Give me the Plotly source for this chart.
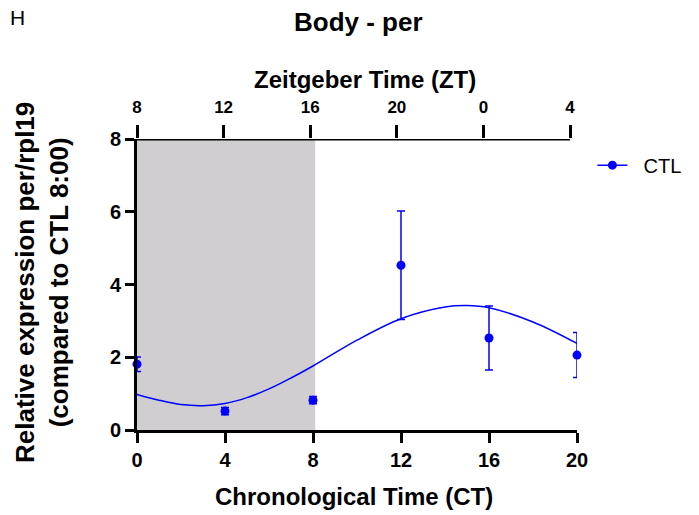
import plotly.graph_objects as go

# Data
ct = [0, 4, 8, 12, 16, 20]
ctl_mean = [1.81, 0.52, 0.82, 4.53, 2.53, 2.06]
ctl_err = [0.20, 0.10, 0.10, 1.49, 0.88, 0.62]

fit_ct = [0, 1, 2, 3, 4, 5, 6, 7, 8, 10, 12, 14, 15, 16, 18, 20]
fit_val = [0.98, 0.82, 0.70, 0.67, 0.73, 0.89, 1.13, 1.43, 1.76, 2.47, 3.06, 3.38, 3.42, 3.36, 2.97, 2.38]

ct_ticks = [0, 4, 8, 12, 16, 20]
zt_labels = ["8", "12", "16", "20", "0", "4"]
y_ticks = [0, 2, 4, 6, 8]
dark_end = 8.1

BLUE = "#0000ff"
FONT = "Liberation Sans, Arial, sans-serif"

fig = go.Figure()

fig.add_trace(go.Scatter(
    x=fit_ct, y=fit_val, mode="lines", line=dict(color=BLUE, width=1.5, shape="spline"),
    showlegend=False, hoverinfo="skip", cliponaxis=False))

fig.add_trace(go.Scatter(
    x=ct, y=ctl_mean, mode="markers",
    marker=dict(color=BLUE, size=9),
    error_y=dict(type="data", array=ctl_err, visible=True, color=BLUE, thickness=1.5, width=4),
    showlegend=False, cliponaxis=False))

fig.add_trace(go.Scatter(
    x=[None], y=[None], mode="lines+markers", name="\u00a0\u00a0CTL",
    line=dict(color=BLUE, width=1.5), marker=dict(color=BLUE, size=9)))

# invisible trace to activate top axis
fig.add_trace(go.Scatter(x=[0], y=[0], xaxis="x2", mode="markers",
                         marker=dict(opacity=0), showlegend=False, hoverinfo="skip"))

fig.add_shape(type="rect", xref="x", yref="y", x0=0, x1=dark_end, y0=0, y1=8,
              fillcolor="#d0ced0", line=dict(width=0), layer="below")
fig.add_shape(type="line", xref="x2", yref="y", x0=0, x1=20, y0=8, y1=8,
              line=dict(color="black", width=3))

tick_font = dict(family=FONT, size=20, color="black", weight="bold")

fig.update_layout(
    width=699, height=515,
    margin=dict(l=137, r=122, t=139, b=85),
    paper_bgcolor="white", plot_bgcolor="white",
    font=dict(family=FONT, color="black"),
    showlegend=True,
    legend=dict(x=1.035, y=0.91, xanchor="left", yanchor="middle",
                font=dict(family=FONT, size=20, color="black"),
                bgcolor="rgba(0,0,0,0)"),
    xaxis=dict(range=[0, 20], tickvals=ct_ticks, showgrid=False, zeroline=False,
               showline=True, linewidth=3, linecolor="black",
               ticks="outside", ticklen=10, tickwidth=3, tickcolor="black",
               tickfont=tick_font),
    xaxis2=dict(range=[0, 20.32], overlaying="x", side="top",
                tickvals=ct_ticks, ticktext=zt_labels, showgrid=False, zeroline=False,
                showline=False, ticks="outside", ticklen=13, tickwidth=3, tickcolor="black",
                ticklabelstandoff=5,
                tickfont=dict(family=FONT, size=17, color="black", weight="bold")),
    yaxis=dict(range=[0, 8], tickvals=y_ticks, showgrid=False, zeroline=False,
               showline=True, linewidth=3, linecolor="black",
               ticks="outside", ticklen=9, tickwidth=3, tickcolor="black",
               tickfont=tick_font),
)

fig.add_annotation(text="<b>Body - per</b>", xref="paper", yref="paper",
                   x=(358 - 137) / 440, y=(430 - 22) / 291, xanchor="center", yanchor="middle",
                   showarrow=False, font=dict(family=FONT, size=26, color="black"))
fig.add_annotation(text="H", xref="paper", yref="paper",
                   x=(8 - 137) / 440, y=(430 - 18) / 291, xanchor="left", yanchor="middle",
                   showarrow=False, font=dict(family=FONT, size=21, color="black"))
fig.add_annotation(text="<b>Zeitgeber Time (ZT)</b>", xref="paper", yref="paper",
                   x=(365 - 137) / 440, y=(430 - 79) / 291, xanchor="center", yanchor="middle",
                   showarrow=False, font=dict(family=FONT, size=24, color="black"))
fig.add_annotation(text="<b>Chronological Time (CT)</b>", xref="paper", yref="paper",
                   x=(354 - 137) / 440, y=(430 - 496) / 291, xanchor="center", yanchor="middle",
                   showarrow=False, font=dict(family=FONT, size=24, color="black"))
fig.add_annotation(text="<b>Relative expression per/rpl19<br>(compared to CTL 8:00)</b>",
                   xref="paper", yref="paper",
                   x=(42 - 137) / 440, y=(430 - 283) / 291, xanchor="center", yanchor="middle",
                   textangle=-90, showarrow=False,
                   font=dict(family=FONT, size=26, color="black"))

fig.write_html("out.html")
